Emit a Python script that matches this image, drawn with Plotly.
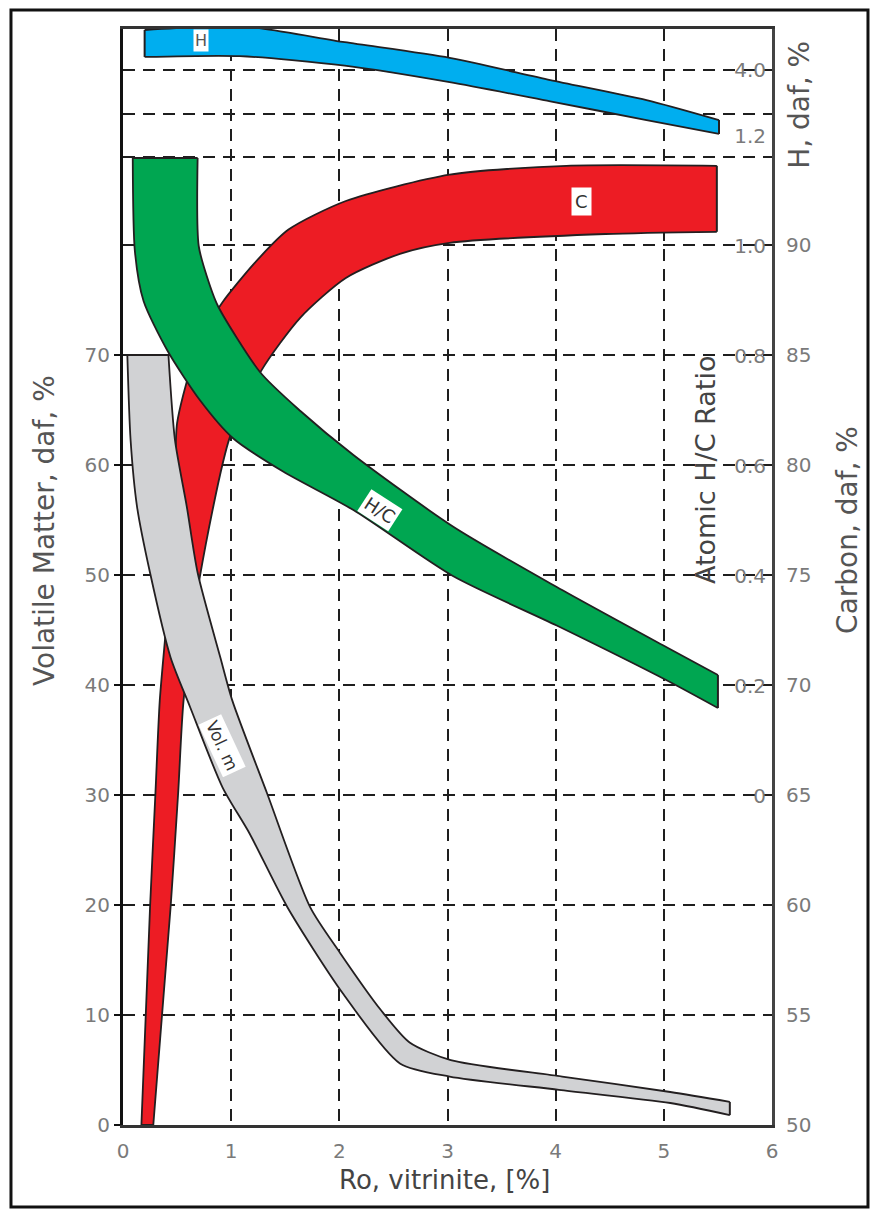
import plotly.graph_objects as go

# ---------------- data ----------------
# x axis: vitrinite reflectance Ro, %
x_ticks = [0, 1, 2, 3, 4, 5, 6]

# Volatile matter band (grey), VM daf %
vm_lower_ro = [0.04, 0.07, 0.13, 0.25, 0.44, 0.62, 0.92, 1.17, 1.52, 2.03, 2.56, 3.02, 4.03, 5.06, 5.61]
vm_lower = [70.0, 62.3, 56.2, 50.2, 42.5, 38.0, 30.7, 26.5, 19.8, 12.0, 5.6, 4.4, 3.2, 2.0, 0.9]
vm_upper_ro = [0.42, 0.48, 0.59, 0.69, 0.90, 1.01, 1.33, 1.73, 2.01, 2.38, 2.65, 3.03, 4.06, 5.06, 5.61]
vm_upper = [70.0, 62.3, 56.2, 50.2, 42.5, 38.6, 30.2, 19.8, 15.6, 10.5, 7.5, 5.9, 4.4, 3.0, 2.1]

# Carbon band (red), C daf %
c_left_ro = [0.17, 0.25, 0.30, 0.34, 0.42, 0.48, 0.50, 0.62, 0.76, 0.92, 1.22, 1.53, 2.06, 3.02, 4.10, 5.49]
c_left = [50.0, 59.9, 65.1, 69.3, 73.9, 79.3, 81.9, 84.3, 86.1, 87.4, 89.2, 90.7, 92.0, 93.2, 93.6, 93.6]
c_right_ro = [0.28, 0.44, 0.51, 0.56, 0.71, 0.99, 1.28, 1.64, 2.06, 2.56, 3.02, 4.46, 5.49]
c_right = [50.0, 59.9, 65.1, 69.3, 74.9, 81.3, 84.3, 86.7, 88.5, 89.6, 90.1, 90.5, 90.6]

# Atomic H/C ratio band (green)
hc_lower_ro = [0.09, 0.11, 0.19, 0.41, 0.71, 1.02, 1.48, 2.13, 3.05, 4.01, 5.03, 5.50]
hc_lower = [1.16, 0.99, 0.90, 0.81, 0.72, 0.65, 0.59, 0.52, 0.40, 0.31, 0.21, 0.16]
hc_upper_ro = [0.69, 0.70, 0.80, 0.88, 1.27, 1.64, 2.13, 3.05, 4.01, 5.03, 5.50]
hc_upper = [1.16, 1.00, 0.93, 0.89, 0.77, 0.70, 0.62, 0.49, 0.38, 0.27, 0.22]

# Hydrogen band (blue), H daf %
h_upper_ro = [0.20, 0.71, 1.17, 2.05, 3.02, 3.95, 4.84, 5.51]
h_upper = [4.92, 4.99, 4.99, 4.64, 4.28, 3.77, 3.31, 2.85]
h_lower_ro = [0.20, 1.08, 2.05, 3.02, 3.95, 4.84, 5.51]
h_lower = [4.30, 4.32, 4.10, 3.72, 3.28, 2.85, 2.53]

vm_ticks = [0, 10, 20, 30, 40, 50, 60, 70]
carbon_ticks = [50, 55, 60, 65, 70, 75, 80, 85, 90]
hc_ticks = [0, 0.2, 0.4, 0.6, 0.8, 1.0, 1.2]
hc_tick_text = ["0", "0.2", "0.4", "0.6", "0.8", "1.0", "1.2"]
h_ticks = [2, 3, 4]
h_tick_text = ["", "", "4.0"]

# ---------------- figure ----------------
FONT = "DejaVu Sans"
TICK_FONT = dict(family=FONT, size=20, color="#7a7a7a")
EDGE_COLOR = "#231f20"
GRID = dict(showgrid=True, gridcolor="#1e1e1e", gridwidth=2, griddash="12px,8px")

fig = go.Figure()


def add_band(xa, ya, xb, yb, axis, color):
    line = dict(color=EDGE_COLOR, width=1.8, shape="spline", smoothing=0.7)
    fig.add_trace(go.Scatter(x=xa, y=ya, yaxis=axis, mode="lines", line=line,
                             hoverinfo="skip", showlegend=False))
    fig.add_trace(go.Scatter(x=xb, y=yb, yaxis=axis, mode="lines", line=line,
                             fill="tonexty", fillcolor=color,
                             hoverinfo="skip", showlegend=False))
    # straight closing edges at both ends of the band
    fig.add_trace(go.Scatter(x=[xa[0], xb[0], None, xa[-1], xb[-1]],
                             y=[ya[0], yb[0], None, ya[-1], yb[-1]],
                             yaxis=axis, mode="lines",
                             line=dict(color=EDGE_COLOR, width=2),
                             hoverinfo="skip", showlegend=False))


add_band(c_left_ro, c_left, c_right_ro, c_right, "y", "#ed1c24")
add_band(vm_lower_ro, vm_lower, vm_upper_ro, vm_upper, "y2", "#d1d2d4")
add_band(hc_lower_ro, hc_lower, hc_upper_ro, hc_upper, "y3", "#00a651")
add_band(h_upper_ro, h_upper, h_lower_ro, h_lower, "y4", "#00aeef")

fig.update_layout(
    width=870, height=1206,
    margin=dict(l=115, r=106, t=21, b=89),
    paper_bgcolor="white", plot_bgcolor="white",
    font=dict(family=FONT),
    showlegend=False,
    xaxis=dict(range=[0, 6], tickvals=x_ticks, **GRID, zeroline=False,
               showline=True, linecolor="#333333", linewidth=3, mirror=True,
               ticks="", tickfont=TICK_FONT, ticklabelstandoff=6),
    yaxis=dict(range=[50, 99.818], side="right", tickvals=carbon_ticks, **GRID,
               zeroline=False, showline=True, linecolor="#444444", linewidth=3,
               ticks="", tickfont=TICK_FONT, ticklabelstandoff=7),
    yaxis2=dict(range=[0, 99.636], overlaying="y", side="left", anchor="x",
                tickvals=vm_ticks, showgrid=False, zeroline=False,
                showline=True, linecolor="#111111", linewidth=3,
                ticks="outside", ticklen=6, tickwidth=2, tickcolor="#111111",
                tickfont=TICK_FONT),
    yaxis3=dict(range=[-0.598, 1.3945], overlaying="y", anchor="free", position=1,
                side="left", tickvals=hc_ticks, ticktext=hc_tick_text,
                showgrid=False, zeroline=False, showline=False, ticks="",
                tickfont=TICK_FONT, ticklabelstandoff=6),
    yaxis4=dict(range=[-20.253, 4.943], overlaying="y", anchor="free", position=1,
                side="left", tickvals=h_ticks, ticktext=h_tick_text,
                **GRID, zeroline=False, showline=False, ticks="",
                tickfont=TICK_FONT, ticklabelstandoff=6),
)

TITLE_FONT = dict(family=FONT, size=28, color="#555555")
C = dict(xanchor="center", yanchor="middle", showarrow=False)
annotations = [
    dict(text="Volatile Matter, daf, %", xref="paper", yref="paper", x=-0.1202, y=0.5429,
         textangle=-90, font=TITLE_FONT, **C),
    dict(text="Carbon, daf, %", xref="paper", yref="paper", x=1.117, y=0.5429,
         textangle=-90, font=TITLE_FONT, **C),
    dict(text="H, daf, %", xref="paper", yref="paper", x=1.043, y=0.9307,
         textangle=-90, font=TITLE_FONT, **C),
    dict(text="Atomic H/C Ratio", xref="paper", yref="paper", x=0.8968, y=0.5976,
         textangle=-90, font=dict(family=FONT, size=27, color="#444444"), **C),
    dict(text="Ro, vitrinite, [%]", xref="paper", yref="paper", x=0.496, y=-0.0502,
         font=dict(family=FONT, size=26, color="#444444"), **C),
    # band labels
    dict(text="C", xref="x", yref="y", x=4.24, y=92.0, bgcolor="white", borderpad=3,
         font=dict(family=FONT, size=18, color="#333333"), **C),
    dict(text="Vol. m", xref="x", yref="y2", x=0.92, y=34.5, textangle=65,
         bgcolor="white", borderpad=2, font=dict(family=FONT, size=17, color="#333333"), **C),
    dict(text="H/C", xref="x", yref="y3", x=2.38, y=0.52, textangle=33,
         bgcolor="white", borderpad=2, font=dict(family=FONT, size=18, color="#333333"), **C),
    dict(text="H", xref="x", yref="y4", x=0.72, y=4.67, bgcolor="white", borderpad=1,
         font=dict(family=FONT, size=16, color="#555555"), **C),
]
fig.update_layout(annotations=annotations)

# outer frame around the whole figure
fig.add_shape(type="rect", xref="paper", yref="paper",
              x0=-0.1726, x1=1.1479, y0=-0.0748, y1=1.0173,
              line=dict(color="#111111", width=3), fillcolor="rgba(0,0,0,0)")

fig.write_html("out.html")
